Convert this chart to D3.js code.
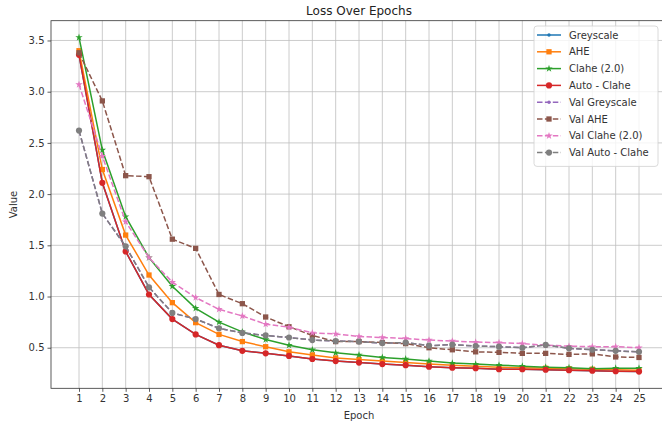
<!DOCTYPE html>
<html>
<head>
<meta charset="utf-8">
<script src="https://cdn.jsdelivr.net/npm/d3@7"></script>
<style>
  body { margin: 0; background: #fff; }
  svg { display: block; font-family: "DejaVu Sans", sans-serif; }
</style>
</head>
<body>
<div id="chart"></div>
<script>
// values
const epochs = d3.range(1, 26);
const yTicks = [0.5, 1.0, 1.5, 2.0, 2.5, 3.0, 3.5];

const greyscale = [3.36, 2.11, 1.44, 1.02, 0.78, 0.63, 0.525, 0.47, 0.445, 0.42, 0.39, 0.37, 0.355, 0.34, 0.33, 0.315, 0.305, 0.30, 0.29, 0.29, 0.285, 0.28, 0.275, 0.27, 0.267];
const ahe = [3.40, 2.24, 1.60, 1.21, 0.94, 0.745, 0.63, 0.56, 0.51, 0.46, 0.43, 0.40, 0.385, 0.37, 0.355, 0.34, 0.33, 0.32, 0.31, 0.305, 0.30, 0.295, 0.29, 0.285, 0.28];
const clahe = [3.53, 2.43, 1.78, 1.38, 1.10, 0.885, 0.75, 0.655, 0.58, 0.525, 0.48, 0.45, 0.43, 0.405, 0.39, 0.37, 0.35, 0.34, 0.33, 0.32, 0.31, 0.305, 0.295, 0.30, 0.30];
const autoClahe = [3.36, 2.11, 1.44, 1.02, 0.78, 0.63, 0.525, 0.47, 0.445, 0.42, 0.39, 0.37, 0.355, 0.34, 0.33, 0.315, 0.305, 0.30, 0.29, 0.29, 0.285, 0.28, 0.275, 0.27, 0.267];
const valGreyscale = [2.62, 1.81, 1.49, 1.09, 0.84, 0.78, 0.69, 0.645, 0.62, 0.60, 0.575, 0.565, 0.56, 0.545, 0.55, 0.52, 0.53, 0.517, 0.51, 0.50, 0.527, 0.494, 0.48, 0.47, 0.46];
const valAhe = [3.38, 2.91, 2.18, 2.17, 1.56, 1.47, 1.02, 0.93, 0.80, 0.705, 0.62, 0.56, 0.56, 0.55, 0.54, 0.50, 0.48, 0.46, 0.455, 0.445, 0.445, 0.435, 0.44, 0.41, 0.405];
const valClahe = [3.07, 2.37, 1.73, 1.38, 1.14, 0.99, 0.875, 0.81, 0.73, 0.70, 0.645, 0.635, 0.61, 0.60, 0.59, 0.575, 0.565, 0.555, 0.55, 0.54, 0.525, 0.515, 0.51, 0.51, 0.50];
const valAutoClahe = [2.62, 1.81, 1.49, 1.09, 0.84, 0.78, 0.69, 0.645, 0.62, 0.60, 0.575, 0.565, 0.56, 0.545, 0.55, 0.52, 0.53, 0.517, 0.51, 0.50, 0.527, 0.494, 0.48, 0.47, 0.46];

const seriesNames = ['Greyscale', 'AHE', 'Clahe (2.0)', 'Auto - Clahe', 'Val Greyscale', 'Val AHE', 'Val Clahe (2.0)', 'Val Auto - Clahe'];
const seriesValues = [greyscale, ahe, clahe, autoClahe, valGreyscale, valAhe, valClahe, valAutoClahe];
const seriesColors = ['#1f77b4', '#ff7f0e', '#2ca02c', '#d62728', '#9467bd', '#8c564b', '#e377c2', '#7f7f7f'];
const seriesMarkers = ['point', 'square', 'star', 'circle', 'point', 'square', 'star', 'circle'];
const seriesDashed = [false, false, false, false, true, true, true, true];

// frame of the axes (right edge falls just outside the picture)
const W = 662, H = 425;
const frame = { left: 51, right: 667, top: 20.7, bottom: 388.3 };

const svg = d3.select('#chart')
  .append('svg')
  .attr('width', W)
  .attr('height', H);

svg.append('rect').attr('width', W).attr('height', H).attr('fill', '#fff');

// x margin 5% like matplotlib
const xScale = d3.scaleLinear()
  .domain([1 - 0.05 * 24, 25 + 0.05 * 24])
  .range([frame.left, frame.right]);

const allValues = seriesValues.flat();
const ext = d3.extent(allValues);
const pad = 0.05 * (ext[1] - ext[0]);
const yScale = d3.scaleLinear()
  .domain([ext[0] - pad, ext[1] + pad])
  .range([frame.bottom, frame.top]);

// grid
const grid = svg.append('g').attr('stroke', '#b0b0b0').attr('stroke-width', 0.8).attr('opacity', 0.8);
grid.selectAll('line.gx')
  .data(epochs)
  .enter()
  .append('line')
  .attr('x1', d => xScale(d)).attr('x2', d => xScale(d))
  .attr('y1', frame.top).attr('y2', frame.bottom);
grid.selectAll('line.gy')
  .data(yTicks)
  .enter()
  .append('line')
  .attr('x1', frame.left).attr('x2', frame.right)
  .attr('y1', d => yScale(d)).attr('y2', d => yScale(d));

// series lines and markers
const line = d3.line()
  .x((d, i) => xScale(epochs[i]))
  .y(d => yScale(d));

const symbolFor = {
  point: d3.symbol(d3.symbolCircle, 9),
  square: d3.symbol(d3.symbolSquare, 28),
  star: d3.symbol(d3.symbolStar, 17),
  circle: d3.symbol(d3.symbolCircle, 30)
};

seriesValues.forEach((vals, s) => {
  const g = svg.append('g');
  g.append('path')
    .attr('d', line(vals))
    .attr('fill', 'none')
    .attr('stroke', seriesColors[s])
    .attr('stroke-width', 1.5)
    .attr('stroke-dasharray', seriesDashed[s] ? '5.5,2.4' : null);
  g.selectAll('path.m')
    .data(vals)
    .enter()
    .append('path')
    .attr('class', 'm')
    .attr('transform', (d, i) => `translate(${xScale(epochs[i])},${yScale(d)})`)
    .attr('d', symbolFor[seriesMarkers[s]]())
    .attr('fill', seriesColors[s]);
});

// axes
const xAxis = svg.append('g')
  .attr('transform', `translate(0,${frame.bottom})`)
  .call(d3.axisBottom(xScale).tickValues(epochs).tickSize(3.5).tickPadding(3).tickSizeOuter(0));
const yAxis = svg.append('g')
  .attr('transform', `translate(${frame.left},0)`)
  .call(d3.axisLeft(yScale).tickValues(yTicks).tickFormat(d3.format('.1f')).tickSize(3.5).tickPadding(3).tickSizeOuter(0));

[xAxis, yAxis].forEach(a => {
  a.select('.domain').remove();
  a.selectAll('text').attr('font-size', 10).attr('fill', '#333').attr('font-family', '"DejaVu Sans", sans-serif');
  a.selectAll('line').attr('stroke', '#333').attr('stroke-width', 0.8);
});

// spines
svg.append('rect')
  .attr('x', frame.left).attr('y', frame.top)
  .attr('width', frame.right - frame.left).attr('height', frame.bottom - frame.top)
  .attr('fill', 'none').attr('stroke', '#333').attr('stroke-width', 0.8);

// labels
svg.append('text')
  .attr('x', (frame.left + frame.right) / 2).attr('y', 14.5)
  .attr('text-anchor', 'middle').attr('font-size', 12).attr('fill', '#222')
  .text('Loss Over Epochs');

svg.append('text')
  .attr('x', (frame.left + frame.right) / 2).attr('y', 419)
  .attr('text-anchor', 'middle').attr('font-size', 10).attr('fill', '#333')
  .text('Epoch');

svg.append('text')
  .attr('transform', `translate(17,${(frame.top + frame.bottom) / 2}) rotate(-90)`)
  .attr('text-anchor', 'middle').attr('font-size', 10).attr('fill', '#333')
  .text('Value');

// legend
const legend = svg.append('g').attr('transform', 'translate(534,26)');
const rowH = 16.8;
legend.append('rect')
  .attr('x', 0).attr('y', 0)
  .attr('width', 124).attr('height', 8 + rowH * seriesNames.length - 2)
  .attr('rx', 3)
  .attr('fill', '#fff').attr('fill-opacity', 0.8)
  .attr('stroke', '#d0d0d0').attr('stroke-width', 0.8);

const rows = legend.selectAll('g.row')
  .data(seriesNames)
  .enter()
  .append('g')
  .attr('transform', (d, i) => `translate(0,${9 + rowH * i})`);

rows.append('line')
  .attr('x1', 3).attr('x2', 27)
  .attr('stroke', (d, i) => seriesColors[i])
  .attr('stroke-width', 1.5)
  .attr('stroke-dasharray', (d, i) => seriesDashed[i] ? '5.5,2.4' : null);

rows.append('path')
  .attr('transform', 'translate(15,0)')
  .attr('d', (d, i) => symbolFor[seriesMarkers[i]]())
  .attr('fill', (d, i) => seriesColors[i]);

rows.append('text')
  .attr('x', 35).attr('y', 3.6)
  .attr('font-size', 10).attr('fill', '#333')
  .text(d => d);
</script>
</body>
</html>
